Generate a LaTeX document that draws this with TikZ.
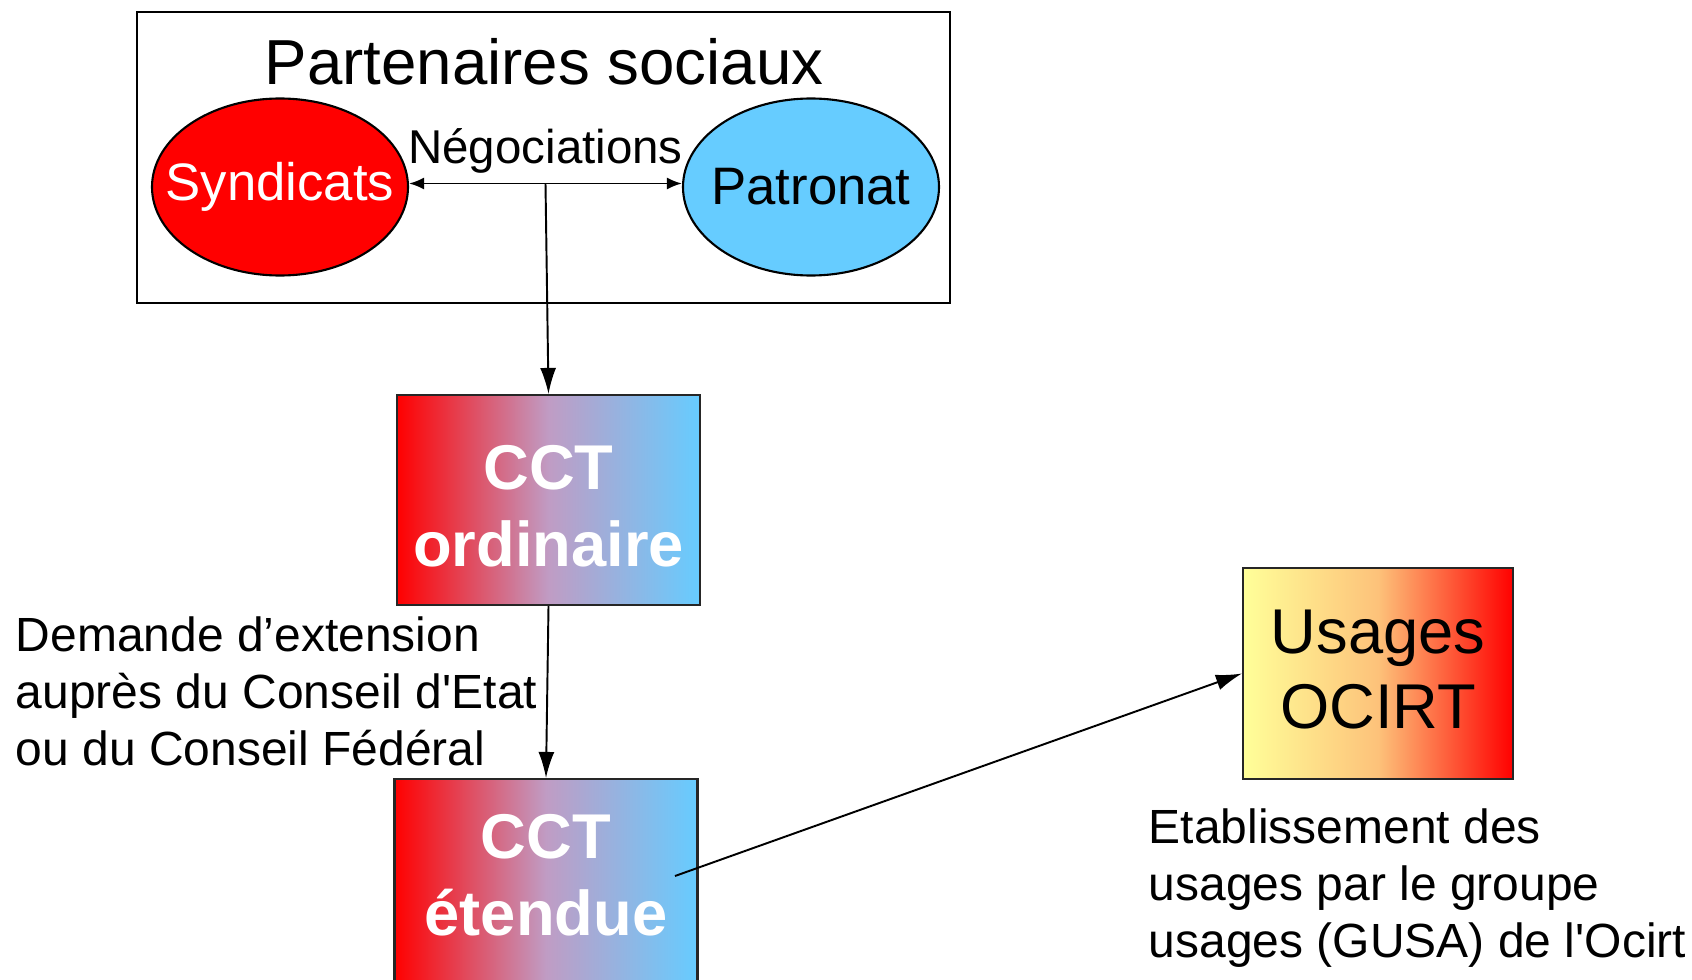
\documentclass[tikz,border=0pt]{standalone}
\usepackage{fontspec}
\setmainfont{Liberation Sans}
\usetikzlibrary{arrows.meta,shapes.geometric}
\definecolor{skyblue}{HTML}{66CCFF}
\definecolor{paleyellow}{HTML}{FFFF99}
\definecolor{lavender}{HTML}{C09CC4}
\definecolor{peach}{HTML}{FDC27A}
\tikzset{
        partner/.style = {ellipse, draw=black, line width=1.2pt, inner sep=0pt,
            minimum width=5.12cm, minimum height=3.54cm},
        partnertext/.style = {font=\fontsize{30}{36}\selectfont},
        cct/.style = {rectangle, draw=black!85, line width=1.2pt,
            minimum width=6.06cm, minimum height=4.2cm,
            left color=red, right color=skyblue, middle color=lavender},
        ccttext/.style = {align=center, text=white,
            font=\fontsize{36}{44}\selectfont\bfseries},
        usage/.style = {rectangle, draw=black!85, line width=1.2pt,
            minimum width=5.4cm, minimum height=4.22cm,
            left color=paleyellow, right color=red, middle color=peach},
        note/.style = {align=left, inner sep=0pt, anchor=west,
            font=\fontsize{27.3}{32.4}\selectfont},
        bigtip/.style = {-{Latex[length=5.2mm,width=3.2mm]}},
        smalltip/.style = {{Latex[length=3mm,width=2.4mm]}-{Latex[length=3mm,width=2.4mm]}}
    }

\begin{document}
\begin{tikzpicture}[x=0.2mm, y=-0.2mm, line width=1.1pt]
    \useasboundingbox (0,0) rectangle (1692,980);
    % partenaires sociaux
    \node [draw=black, line width=1.1pt, minimum width=16.26cm, minimum height=5.82cm]
        (partners) at (543.5,157.5) {};
    \node [font=\fontsize{36.2}{43}\selectfont] (title) at (544,62) {Partenaires sociaux};
    \node [partner, fill=red, label={[partnertext, text=white]center:Syndicats}]
        (syndicats) at (280,187) {};
    \node [partner, fill=skyblue, label={[partnertext]center:Patronat}]
        (patronat) at (811,187) {};
    \draw [smalltip] ([yshift=0.7mm]syndicats.east) -- node [above, font=\fontsize{27}{32}\selectfont,
        inner sep=5.5pt] (nego) {Négociations} coordinate (negmid) ([yshift=0.7mm]patronat.west);
    % CCT
    \node [cct, label={[ccttext, yshift=-1.3mm]center:{CCT\\ordinaire}}]
        (ordinaire) at (548.5,500) {};
    \node [cct] (etendue) at (546,884) {};
    \node [ccttext] (etenduetext) at (546,875) {CCT\\étendue};
    \draw [bigtip] (negmid) -- (ordinaire.north);
    \draw [bigtip] (ordinaire.south) -- (etendue.north);
    \node [note] (demande) at (15,691)
        {Demande d’extension\\auprès du Conseil d\textquotesingle Etat\\ou du Conseil Fédéral};
    % usages
    \node [usage, label={[align=center, font=\fontsize{36}{43}\selectfont, yshift=0.8mm]center:{Usages\\OCIRT}}]
        (usages) at (1378,673.5) {};
    \coordinate (etstart) at (675,876);
    \draw [bigtip] (etstart) -- (usages.west);
    \node [note] (gusa) at (1148,888)
        {Etablissement des\\usages par le groupe\\usages (GUSA) de l\textquotesingle Ocirt};
\end{tikzpicture}
\end{document}
